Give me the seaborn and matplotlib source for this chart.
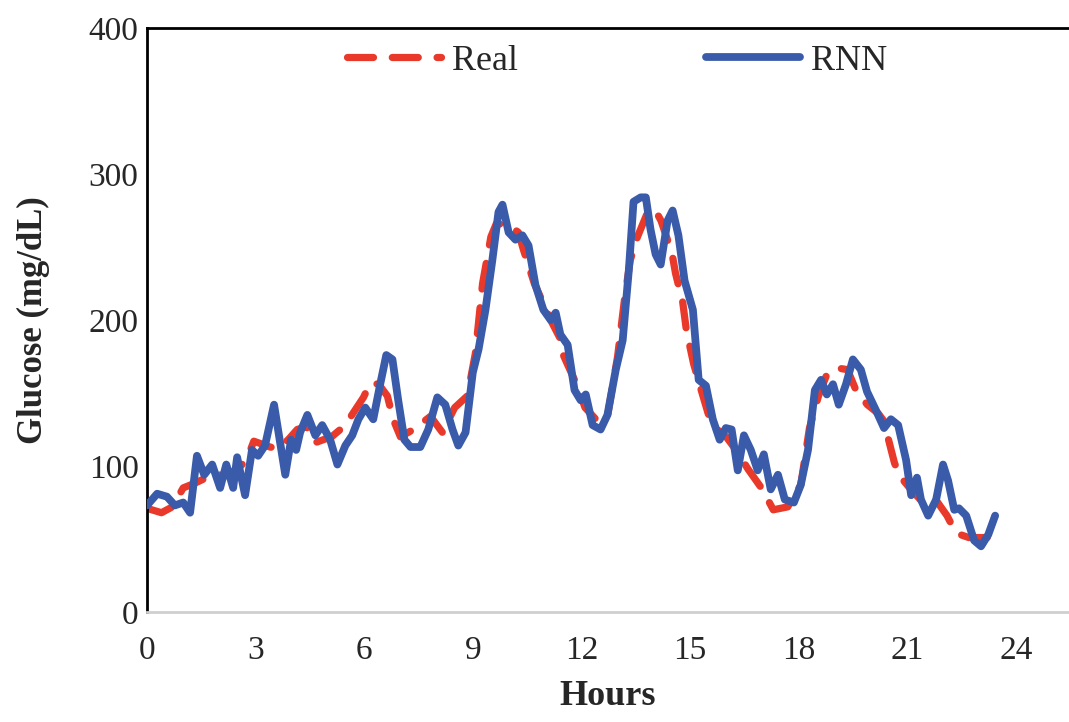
import matplotlib
matplotlib.use("Agg")
import matplotlib.pyplot as plt
import seaborn as sns
import numpy as np

real_hours = [0, 0.4, 0.7, 1.0, 1.3, 1.9, 2.1, 2.5, 2.75, 2.95, 3.4, 3.6, 3.9, 4.15, 4.4, 4.65, 4.87, 5.1,
              5.34, 5.5, 5.98, 6.17, 6.4, 6.64, 6.8, 7.0, 7.36, 7.83, 8.16, 8.5, 8.85, 9.07, 9.27, 9.5, 9.65,
              10.0, 10.26, 10.4, 10.7, 10.9, 11.15, 11.4, 11.5, 11.9, 12.1, 12.4, 12.7, 13.0, 13.2, 13.35,
              13.55, 13.8, 14.0, 14.2, 14.5, 14.6, 14.8, 14.9, 15.1, 15.25, 15.5, 15.65, 16.0, 16.3, 16.6,
              17.0, 17.3, 17.7, 18.06, 18.3, 18.55, 18.8, 19.1, 19.35, 19.6, 19.9, 20.2, 20.35, 20.65, 20.8,
              21.1, 21.4, 21.7, 22.1, 22.35, 22.7, 23.0, 23.4]
real_glucose = [71, 68, 72, 85, 88, 95, 93, 98, 104, 117, 113, 112, 118, 125, 127, 116, 118, 120,
                125, 129, 147, 157, 156, 148, 132, 120, 125, 134, 123, 140, 148, 177, 225, 257, 266,
                265, 260, 248, 225, 214, 200, 188, 176, 154, 140, 132, 131, 175, 216, 241,
                257, 272, 277, 268, 246, 232, 212, 193, 170, 157, 136, 127, 120, 110, 98,
                84, 70, 72, 87, 126, 148, 164, 167, 166, 151, 142, 136, 131, 102, 93,
                84, 76, 80, 66, 54, 51, 51, 51]

rnn_hours = [0, 0.28, 0.55, 0.77, 1.0, 1.19, 1.38, 1.58, 1.8, 2.02, 2.19, 2.38, 2.49, 2.71, 2.9, 3.07,
             3.26, 3.51, 3.82, 3.98, 4.12, 4.23, 4.43, 4.65, 4.84, 5.06, 5.26, 5.48, 5.67, 5.84, 6.03,
             6.25, 6.45, 6.61, 6.78, 6.94, 7.11, 7.28, 7.55, 7.77, 8.02, 8.24, 8.44, 8.6, 8.8, 9.0, 9.16,
             9.35, 9.54, 9.71, 9.82, 9.99, 10.18, 10.37, 10.54, 10.73, 10.95, 11.15, 11.29, 11.42, 11.62,
             11.81, 11.98, 12.12, 12.31, 12.53, 12.72, 12.95, 13.14, 13.31, 13.44, 13.64, 13.78, 13.91,
             14.05, 14.19, 14.38, 14.52, 14.68, 14.85, 15.08, 15.24, 15.44, 15.63, 15.82, 15.99, 16.15,
             16.32, 16.49, 16.68, 16.87, 17.04, 17.23, 17.43, 17.62, 17.87, 18.06, 18.26, 18.45, 18.62,
             18.78, 18.95, 19.11, 19.31, 19.5, 19.72, 19.89, 20.14, 20.36, 20.55, 20.75, 20.97, 21.11,
             21.27, 21.38, 21.58, 21.8, 21.99, 22.13, 22.3, 22.43, 22.63, 22.85, 23.04, 23.24, 23.43]
rnn_glucose = [73, 81, 79, 73, 75, 68, 107, 94, 101, 85, 101, 85, 106, 80, 111, 107,
               114, 142, 94, 118, 111, 123, 135, 121, 128, 118, 101, 114, 121, 132, 140,
               132, 157, 176, 173, 145, 118, 113, 113, 125, 147, 142, 125, 114, 123, 164, 180,
               207, 241, 274, 279, 260, 255, 258, 251, 224, 207, 200, 205, 190, 183,
               152, 145, 149, 128, 125, 135, 166, 186, 234, 281, 284, 284, 262,
               245, 238, 268, 275, 258, 227, 207, 159, 155, 132, 118, 126, 125,
               97, 121, 111, 97, 108, 84, 94, 77, 75, 87, 111, 152, 159,
               149, 156, 142, 156, 173, 166, 151, 138, 126, 132, 128, 104, 80,
               92, 77, 66, 77, 101, 90, 70, 71, 66, 49, 45, 53, 66]

x_ticks = [0, 3, 6, 9, 12, 15, 18, 21, 24]
y_ticks = [0, 100, 200, 300, 400]

sns.set_style("white")
plt.rcParams['font.family'] = ['Liberation Serif', 'DejaVu Serif']

fig = plt.figure(figsize=(10.69, 7.22), dpi=100)
ax = fig.add_axes([147/1069, 1 - 612/722, 1 - 147/1069, (612 - 28)/722])

red = "#E8392B"
blue = "#3A5BAA"

sns.lineplot(x=real_hours, y=real_glucose, ax=ax, color=red, linewidth=5.2,
             linestyle=(0, (3.6, 2.6)), dash_capstyle='round', dash_joinstyle='round',
             label="Real", zorder=2)
sns.lineplot(x=rnn_hours, y=rnn_glucose, ax=ax, color=blue, linewidth=5.6,
             solid_capstyle='round', solid_joinstyle='round', label="RNN", zorder=3)

ax.set_xlim(0, 25.47)
ax.set_ylim(0, 400)
ax.set_xticks(x_ticks)
ax.set_yticks(y_ticks)
ax.tick_params(axis='both', length=0, labelsize=24)
ax.tick_params(axis='x', pad=17)
ax.tick_params(axis='y', pad=6)
ax.set_xlabel("Hours", fontsize=26, fontweight='bold', labelpad=10)
ax.set_ylabel("Glucose (mg/dL)", fontsize=25, fontweight='bold', labelpad=28)

for s in ['left', 'top']:
    ax.spines[s].set_color('black')
    ax.spines[s].set_linewidth(2)
ax.spines['bottom'].set_color('#cfcfcf')
ax.spines['bottom'].set_linewidth(2)
ax.spines['right'].set_visible(False)

ax.legend(loc='upper center', bbox_to_anchor=(0.51, 1.027), ncol=2, frameon=False,
          fontsize=26, handlelength=2.6, handletextpad=0.3, columnspacing=5.2)

fig.savefig("out.png", dpi=100)
